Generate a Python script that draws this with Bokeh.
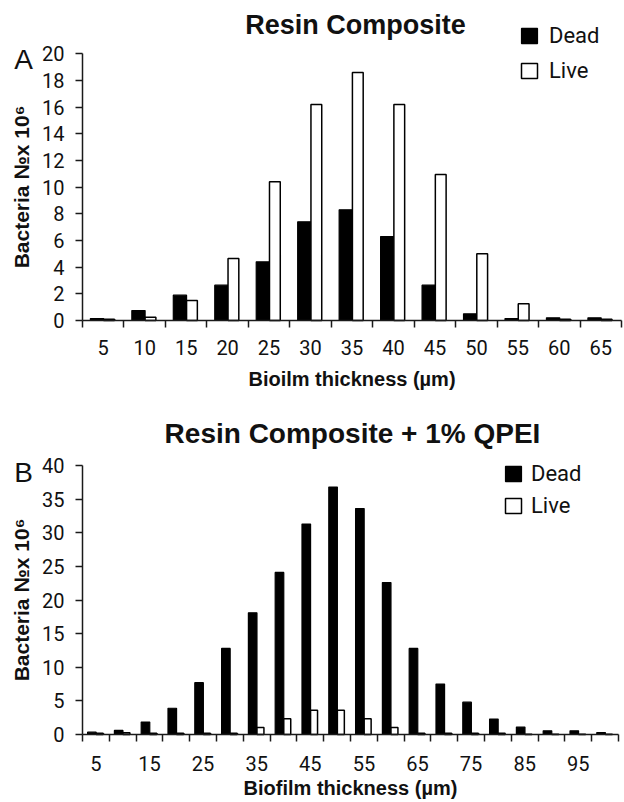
from bokeh.plotting import figure
from bokeh.models import ColumnDataSource, FixedTicker, Label, Legend, LegendItem, Range1d
from bokeh.layouts import column
from bokeh.embed import file_html
from bokeh.resources import INLINE

# ---- data ----
thickness_A = [5, 10, 15, 20, 25, 30, 35, 40, 45, 50, 55, 60, 65]
dead_A = [0.15, 0.75, 1.9, 2.65, 4.4, 7.4, 8.3, 6.3, 2.65, 0.5, 0.15, 0.2, 0.2]
live_A = [0.1, 0.25, 1.5, 4.65, 10.4, 16.2, 18.6, 16.2, 10.95, 5.0, 1.25, 0.1, 0.1]
yticks_A = [0, 2, 4, 6, 8, 10, 12, 14, 16, 18, 20]
xlabels_A = [5, 10, 15, 20, 25, 30, 35, 40, 45, 50, 55, 60, 65]

thickness_B = [5, 10, 15, 20, 25, 30, 35, 40, 45, 50, 55, 60, 65, 70, 75, 80, 85, 90, 95, 100]
dead_B = [0.35, 0.6, 1.85, 3.9, 7.7, 12.8, 18.1, 24.1, 31.3, 36.8, 33.6, 22.6, 12.8, 7.5, 4.8, 2.3, 1.1, 0.55, 0.55, 0.3]
live_B = [0.2, 0.25, 0.2, 0.2, 0.2, 0.2, 1.05, 2.35, 3.6, 3.6, 2.35, 1.05, 0.2, 0.2, 0.2, 0.2, 0.05, 0.05, 0.05, 0.05]
yticks_B = [0, 5, 10, 15, 20, 25, 30, 35, 40]
xlabels_B = [5, 15, 25, 35, 45, 55, 65, 75, 85, 95]

TICKFONT = "Roboto"
SANS = "Liberation Sans"
AXIS_COLOR = "#1a1a1a"
W = 624


def make_panel(cats, dead, live, yticks, xlabels, title, letter, xlabel,
               height, axis_left, axis_right, zero_px, unit_px,
               x_standoff, xlabel_standoff, title_size, title_xy, letter_xy,
               legend_loc, legend_spacing, legend_standoff):
    n = len(cats)
    idx = list(range(n))
    src = ColumnDataSource(dict(
        xd=[i + 0.5 - 0.15 for i in idx],
        xl=[i + 0.5 + 0.14 for i in idx],
        dead=dead, live=live))

    cw = (axis_right - axis_left) / n          # pixels per category
    x_range = Range1d(-axis_left / cw, (W - axis_left) / cw)
    y_range = Range1d(-(height - zero_px) / unit_px, zero_px / unit_px)

    p = figure(width=W, height=height, output_backend="svg", toolbar_location=None,
               x_range=x_range, y_range=y_range,
               min_border=0, min_border_left=0, min_border_right=0,
               min_border_top=0, min_border_bottom=0)
    p.outline_line_color = None
    p.xgrid.visible = False
    p.ygrid.visible = False
    p.background_fill_color = "white"
    p.border_fill_color = "white"

    rd = p.vbar(x="xd", top="dead", width=0.32, bottom=0, source=src,
                fill_color="black", line_color="black", line_width=1.2)
    rl = p.vbar(x="xl", top="live", width=0.26, bottom=0, source=src,
                fill_color="white", line_color="black", line_width=1.5)

    # x axis: labels at category centres, tick marks at category boundaries
    xa = p.xaxis[0]
    xa.fixed_location = 0
    xa.bounds = (0, n)
    xa.ticker = FixedTicker(ticks=[i + 0.5 for i in idx if cats[i] in xlabels],
                            minor_ticks=list(range(n + 1)))
    xa.major_label_overrides = {i + 0.5: str(cats[i]) for i in idx if cats[i] in xlabels}
    xa.major_tick_line_color = None
    xa.major_tick_out = 0
    xa.major_tick_in = 0
    xa.minor_tick_out = 7
    xa.minor_tick_in = 0
    xa.minor_tick_line_color = AXIS_COLOR
    xa.minor_tick_line_width = 1.5
    xa.axis_line_color = AXIS_COLOR
    xa.axis_line_width = 1.5
    xa.major_label_text_font = TICKFONT
    xa.major_label_text_font_size = "20px"
    xa.major_label_text_color = "#111"
    xa.major_label_standoff = x_standoff
    xa.axis_label = xlabel
    xa.axis_label_text_font = SANS
    xa.axis_label_text_font_style = "bold"
    xa.axis_label_text_font_size = "20px"
    xa.axis_label_text_color = "#111"
    xa.axis_label_standoff = xlabel_standoff

    ya = p.yaxis[0]
    ya.fixed_location = 0
    ya.ticker = FixedTicker(ticks=yticks, minor_ticks=[])
    ya.bounds = (yticks[0], yticks[-1])
    ya.major_tick_out = 7
    ya.major_tick_in = 0
    ya.major_tick_line_color = AXIS_COLOR
    ya.major_tick_line_width = 1.5
    ya.axis_line_color = AXIS_COLOR
    ya.axis_line_width = 1.5
    ya.major_label_text_font = TICKFONT
    ya.major_label_text_font_size = "20px"
    ya.major_label_text_color = "#111"
    ya.major_label_standoff = 11
    ya.axis_label = "Bacteria \u2116x 10\u2076"
    ya.axis_label_text_font = SANS
    ya.axis_label_text_font_style = "bold"
    ya.axis_label_text_font_size = "21px"
    ya.axis_label_text_color = "#111"
    ya.axis_label_standoff = 6

    p.add_layout(Label(x=title_xy[0], y=title_xy[1], x_units="screen", y_units="screen",
                       text=title, text_font=SANS, text_font_style="bold",
                       text_font_size=title_size, text_align="center",
                       text_baseline="middle", text_color="#111"))
    p.add_layout(Label(x=letter_xy[0], y=letter_xy[1], x_units="screen", y_units="screen",
                       text=letter, text_font=SANS, text_font_size="28px",
                       text_align="center", text_baseline="middle", text_color="#111"))

    legend = Legend(items=[LegendItem(label="Dead", renderers=[rd]),
                           LegendItem(label="Live", renderers=[rl])],
                    location=legend_loc, orientation="vertical",
                    padding=0, margin=0, border_line_alpha=0, background_fill_alpha=0,
                    glyph_width=20, glyph_height=19, label_height=22,
                    label_standoff=legend_standoff, spacing=legend_spacing,
                    label_text_font=TICKFONT, label_text_font_size="22px",
                    label_text_color="#111")
    p.add_layout(legend)
    return p


pA = make_panel(thickness_A, dead_A, live_A, yticks_A, xlabels_A,
                "Resin Composite", "A", "Bioilm thickness (\u00b5m)",
                height=400, axis_left=82, axis_right=621, zero_px=320, unit_px=13.33,
                x_standoff=12, xlabel_standoff=10,
                title_size="27px", title_xy=(355, 376), letter_xy=(23, 341),
                legend_loc=(519, 317), legend_spacing=10, legend_standoff=10)

pB = make_panel(thickness_B, dead_B, live_B, yticks_B, xlabels_B,
                "Resin Composite + 1% QPEI", "B", "Biofilm thickness (\u00b5m)",
                height=402, axis_left=82, axis_right=618, zero_px=334, unit_px=6.725,
                x_standoff=14, xlabel_standoff=3,
                title_size="28px", title_xy=(352, 369), letter_xy=(23, 330),
                legend_loc=(503, 284), legend_spacing=7, legend_standoff=8)

layout = column(pA, pB, spacing=0)
open("out.html", "w").write(file_html(layout, INLINE))
